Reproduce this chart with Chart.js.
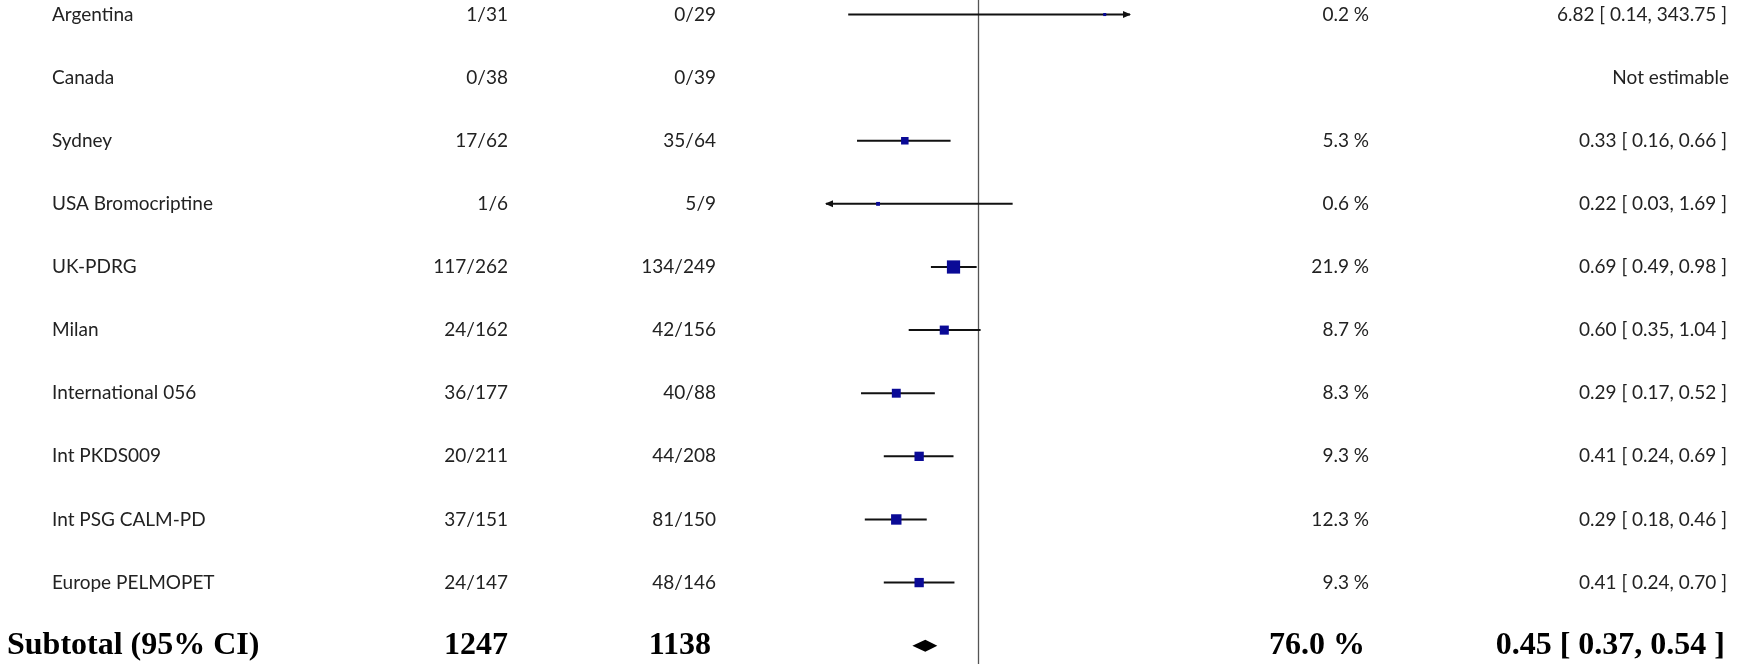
<!DOCTYPE html>
<html>
<head>
<meta charset="utf-8">
<title>Forest plot</title>
<script src="https://cdn.jsdelivr.net/npm/chart.js@4.4.0/dist/chart.umd.min.js"></script>
<style>
  html, body { margin: 0; padding: 0; background: #fff; }
  #wrap { width: 1751px; height: 664px; }
</style>
</head>
<body>
<div id="wrap"><canvas id="forest" width="1751" height="664"></canvas></div>
<script>
// study rows
var studies = ["Argentina", "Canada", "Sydney", "USA Bromocriptine", "UK-PDRG", "Milan",
               "International 056", "Int PKDS009", "Int PSG CALM-PD", "Europe PELMOPET"];
var expEvents = [1, 0, 17, 1, 117, 24, 36, 20, 37, 24];
var expTotal  = [31, 38, 62, 6, 262, 162, 177, 211, 151, 147];
var ctlEvents = [0, 0, 35, 5, 134, 42, 40, 44, 81, 48];
var ctlTotal  = [29, 39, 64, 9, 249, 156, 88, 208, 150, 146];
var weights   = [0.2, null, 5.3, 0.6, 21.9, 8.7, 8.3, 9.3, 12.3, 9.3];
var oddsRatio = [6.82, null, 0.33, 0.22, 0.69, 0.60, 0.29, 0.41, 0.29, 0.41];
var ciLow     = [0.14, null, 0.16, 0.03, 0.49, 0.35, 0.17, 0.24, 0.18, 0.24];
var ciHigh    = [343.75, null, 0.66, 1.69, 0.98, 1.04, 0.52, 0.69, 0.46, 0.70];

// pooled
var subtotalLabel = "Subtotal (95% CI)";
var subtotalExp = 1247;
var subtotalCtl = 1138;
var subtotalWeight = 76.0;
var subtotalOR = [0.45, 0.37, 0.54];

var axisMin = 0.1, axisMax = 10;

var SANS = '19px Lato, "Noto Sans", sans-serif';
var SERIF_B = 'bold 32px "Liberation Serif", "DejaVu Serif", serif';

function fmtCI(or, lo, hi) {
    return or.toFixed(2) + " [ " + lo.toFixed(2) + ", " + hi.toFixed(2) + " ]";
}

// one line per confidence interval
var datasets = [];
studies.forEach(function (name, i) {
    if (oddsRatio[i] == null) return;
    datasets.push({
        type: "line",
        data: [{ x: ciLow[i], y: i }, { x: ciHigh[i], y: i }],
        borderColor: "#111",
        borderWidth: 2,
        pointRadius: 0,
        order: 2
    });
});

// study estimates (square size from weight)
var pts = [], radii = [];
studies.forEach(function (name, i) {
    if (oddsRatio[i] == null) return;
    pts.push({ x: oddsRatio[i], y: i });
    radii.push((1 + Math.sqrt(weights[i]) * 1.2) * 1.414);
});
datasets.push({
    type: "scatter",
    data: pts,
    pointStyle: "rect",
    pointRadius: radii,
    backgroundColor: "#0a0a96",
    borderColor: "#0a0a96",
    borderWidth: 0,
    order: 1
});

var forestPlugin = {
    id: "forestDecor",
    beforeDatasetsDraw: function (chart) {
        var ctx = chart.ctx, xs = chart.scales.x;
        var x1 = Math.round(xs.getPixelForValue(1)) + 0.5;
        ctx.save();
        ctx.strokeStyle = "#555";
        ctx.lineWidth = 1.3;
        ctx.beginPath();
        ctx.moveTo(x1, 0);
        ctx.lineTo(x1, chart.height);
        ctx.stroke();
        ctx.restore();
    },
    afterDatasetsDraw: function (chart) {
        var ctx = chart.ctx, xs = chart.scales.x, ys = chart.scales.y;
        ctx.save();
        ctx.fillStyle = "#111";

        // arrows where the interval runs off the axis
        studies.forEach(function (name, i) {
            if (oddsRatio[i] == null) return;
            var y = ys.getPixelForValue(i);
            if (ciHigh[i] > axisMax) {
                var xr = xs.getPixelForValue(axisMax);
                ctx.beginPath();
                ctx.moveTo(xr + 1, y);
                ctx.lineTo(xr - 7, y - 3.5);
                ctx.lineTo(xr - 7, y + 3.5);
                ctx.closePath();
                ctx.fill();
            }
            if (ciLow[i] < axisMin) {
                var xl = xs.getPixelForValue(axisMin);
                ctx.beginPath();
                ctx.moveTo(xl - 1, y);
                ctx.lineTo(xl + 7, y - 3.5);
                ctx.lineTo(xl + 7, y + 3.5);
                ctx.closePath();
                ctx.fill();
            }
        });

        // pooled diamond
        var yd = ys.getPixelForValue(studies.length);
        ctx.fillStyle = "#000";
        ctx.beginPath();
        ctx.moveTo(xs.getPixelForValue(subtotalOR[1]), yd);
        ctx.lineTo(xs.getPixelForValue(subtotalOR[0]), yd - 6);
        ctx.lineTo(xs.getPixelForValue(subtotalOR[2]), yd);
        ctx.lineTo(xs.getPixelForValue(subtotalOR[0]), yd + 6);
        ctx.closePath();
        ctx.fill();
        ctx.restore();
    },
    afterDraw: function (chart) {
        var ctx = chart.ctx, ys = chart.scales.y;
        ctx.save();
        ctx.textBaseline = "middle";
        ctx.fillStyle = "#222";
        ctx.font = SANS;
        studies.forEach(function (name, i) {
            var y = ys.getPixelForValue(i);
            ctx.textAlign = "left";
            ctx.fillText(name, 52, y);
            ctx.textAlign = "right";
            ctx.fillText(expEvents[i] + "/" + expTotal[i], 508, y);
            ctx.fillText(ctlEvents[i] + "/" + ctlTotal[i], 716, y);
            if (weights[i] != null) {
                ctx.fillText(weights[i].toFixed(1) + " %", 1369, y);
                ctx.fillText(fmtCI(oddsRatio[i], ciLow[i], ciHigh[i]), 1727, y);
            } else {
                ctx.fillText("Not estimable", 1729, y);
            }
        });

        // subtotal row
        var ys2 = ys.getPixelForValue(studies.length);
        ctx.fillStyle = "#000";
        ctx.font = SERIF_B;
        ctx.textAlign = "left";
        ctx.fillText(subtotalLabel, 7, ys2);
        ctx.textAlign = "right";
        ctx.fillText(String(subtotalExp), 508, ys2);
        ctx.fillText(String(subtotalCtl), 711, ys2);
        ctx.fillText(subtotalWeight.toFixed(1) + " %", 1365, ys2);
        ctx.fillText(fmtCI(subtotalOR[0], subtotalOR[1], subtotalOR[2]), 1725, ys2);
        ctx.restore();
    }
};

var chart = new Chart(document.getElementById("forest").getContext("2d"), {
    type: "scatter",
    data: { datasets: datasets },
    options: {
        responsive: false,
        animation: false,
        devicePixelRatio: 1,
        layout: { autoPadding: false, padding: { left: 826, right: 621, top: 0, bottom: 0 } },
        plugins: { legend: { display: false }, tooltip: { enabled: false } },
        scales: {
            x: { type: "logarithmic", min: axisMin, max: axisMax, display: false },
            y: { type: "linear", min: -0.23, max: 10.29, reverse: true, display: false }
        }
    },
    plugins: [forestPlugin]
});
</script>
</body>
</html>
